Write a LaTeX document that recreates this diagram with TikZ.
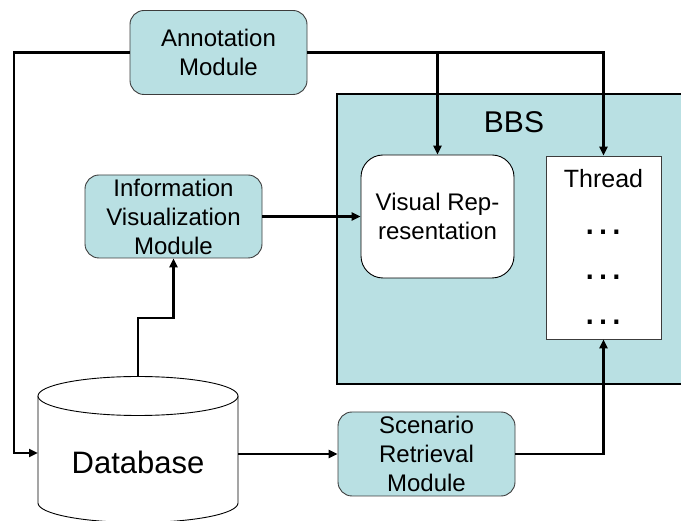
\documentclass[tikz,border=0pt]{standalone}
\usepackage{fontspec}
\setmainfont{Liberation Sans}
\usetikzlibrary{arrows.meta}
\definecolor{teal1}{RGB}{185,224,227}
\definecolor{edge1}{RGB}{60,60,60}
\tikzset{
  module/.style={draw=edge1, line width=0.9pt, fill=teal1, rounded corners=14pt,
    minimum width=177pt, minimum height=84pt, inner sep=0pt, align=center,
    font=\fontsize{24}{29}\selectfont},
  conn/.style={line width=2.7pt, draw=black},
  arr/.style={conn, -{Triangle[length=9pt,width=8pt]}},
  txt/.style={inner sep=0pt, align=center}
}
\begin{document}
\begin{tikzpicture}[x=1pt,y=1pt]
\useasboundingbox (0,0) rectangle (681,-521);
\clip (0,0) rectangle (681,-521);
% BBS container
\node[draw=black, line width=2pt, fill=teal1, minimum width=363pt, minimum height=290pt, inner sep=0pt] (bbs) at (518.5,-239) {};
\node[txt, font=\fontsize{30}{36}\selectfont] (bbslabel) at (514,-122) {BBS};
% modules
\node[module] (ann) at (218.5,-52.5) {Annotation\\Module};
\node[module, minimum height=83pt] (info) at (173.5,-216.5) {Information\\Visualization\\Module};
\node[module] (scen) at (426.5,-454) {Scenario\\Retrieval\\Module};
% visual representation
\node[draw=black, line width=0.9pt, fill=white, rounded corners=22pt, minimum width=153pt, minimum height=123pt, inner sep=0pt, align=center, font=\fontsize{24}{29}\selectfont] (vis) at (437.5,-216.5) {Visual Rep-\\resentation};
% thread
\node[draw=edge1, line width=0.9pt, fill=white, minimum width=115pt, minimum height=183pt, inner sep=0pt] (thread) at (603.5,-247.5) {};
\node[txt, font=\fontsize{25}{30}\selectfont] (threadlabel) at (603.5,-179) {Thread};
\node[txt, font=\fontsize{42}{42}\selectfont] (dots1) at (603.5,-232) {…};
\node[txt, font=\fontsize{42}{42}\selectfont] (dots2) at (603.5,-277) {…};
\node[txt, font=\fontsize{42}{42}\selectfont] (dots3) at (603.5,-322) {…};
% database cylinder
\draw[line width=0.9pt, fill=white] (38,-396) -- (38,-503) arc[start angle=180, end angle=360, x radius=100pt, y radius=19.5pt] -- (238,-396);
\draw[line width=0.9pt, fill=white] (138,-396) ellipse[x radius=100pt, y radius=19.5pt];
\node[txt, font=\fontsize{31}{36}\selectfont] (db) at (138,-462) {Database};
\coordinate (dbtop) at (138,-376.5);
\coordinate (dbleft) at (38,-453);
\coordinate (dbright) at (238,-454);
\coordinate (lcorner) at (14,-52.5);
\coordinate (lbottom) at (14,-453);
\coordinate (step1) at (138,-318);
\coordinate (step2) at (173.5,-318);
% connectors
\draw[arr] (ann.west) -- (lcorner) -- (lbottom) -- (dbleft);
\draw[arr] (ann.east) -| (thread.north);
\draw[arr] (vis.north |- ann.east) -- (vis.north);
\draw[arr] (info.east) -- (vis.west);
\draw[arr] (dbtop) -- (step1) -- (step2) -- (info.south);
\draw[arr] (dbright) -- (scen.west);
\draw[arr] (scen.east) -| (thread.south);
\end{tikzpicture}
\end{document}
